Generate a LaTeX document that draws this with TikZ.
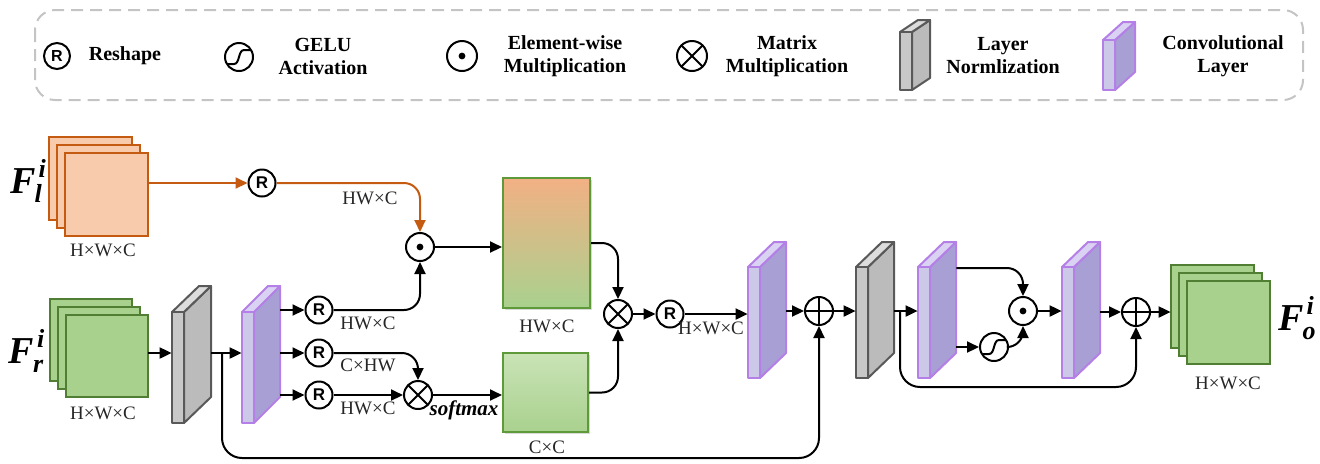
\documentclass[tikz,border=0pt]{standalone}
\usepackage{fontspec}
\setmainfont{Liberation Serif}
\newfontfamily\rfont{Liberation Sans}
\usetikzlibrary{arrows.meta,shadows,fit,calc}
\definecolor{orgB}{HTML}{C55A11}
\definecolor{orgF}{HTML}{F8CBAD}
\definecolor{grnB}{HTML}{507E32}
\definecolor{grnF}{HTML}{A9D18E}
\definecolor{boxB}{HTML}{5E9A3A}
\definecolor{boxT}{HTML}{F2B084}
\definecolor{boxT2}{HTML}{C9E3B6}
\definecolor{gB}{HTML}{595959}
\definecolor{gF}{HTML}{C8C8C8}
\definecolor{gS}{HTML}{BBBBBB}
\definecolor{gT}{HTML}{DCDCDC}
\definecolor{pB}{HTML}{B47FE6}
\definecolor{pF}{HTML}{CCC8E8}
\definecolor{pS}{HTML}{A8A0D4}
\definecolor{pT}{HTML}{DAD2F2}
\definecolor{legB}{HTML}{C4C4C4}
\newcommand\slab[8]{%
 \filldraw[#8side] (#2+#4,#3) -- (#2+#4+#6,#3-#7) -- (#2+#4+#6,#3+#5-#7) -- (#2+#4,#3+#5) -- cycle;
 \filldraw[#8top] (#2,#3) -- (#2+#6,#3-#7) -- (#2+#4+#6,#3-#7) -- (#2+#4,#3) -- cycle;
 \filldraw[#8front] (#2,#3) rectangle (#2+#4,#3+#5);
 \node[fit={(#2,#3-#7) (#2+#4+#6,#3+#5)}, inner sep=0pt] (#1) {};
}
\newcommand\stk[5]{%
 \filldraw[#5] (#2,#3) rectangle ++(#4,#4);
 \filldraw[#5] (#2+8,#3+8) rectangle ++(#4,#4);
 \filldraw[#5] (#2+16,#3+16) rectangle ++(#4,#4);
 \node[fit={(#2,#3) (#2+16+#4,#3+16+#4)}, inner sep=0pt] (#1) {};
}
\newcommand\Flab[1]{\fontsize{19}{19}\selectfont\bfseries\itshape F\raisebox{8pt}{\makebox[0pt][l]{\fontsize{13}{13}\selectfont\kern1.5pt i}}\raisebox{-4.5pt}{\fontsize{13}{13}\selectfont\kern-0.5pt #1}}
\begin{document}
\begin{tikzpicture}[x=0.5pt,y=-0.5pt,
 conn/.style={line width=1pt,-{Triangle[length=6pt,width=5.5pt]}},
 oconn/.style={conn,draw=orgB,-{Triangle[length=6pt,width=5.5pt,fill=orgB]}},
 op/.style={circle,draw,line width=1pt,minimum size=14pt,inner sep=0pt,fill=white},
 rsh/.style={op,minimum size=13.5pt,font=\rfont\bfseries\fontsize{8.5}{8.5}\selectfont},
 oplus/.style={op,path picture={\draw[black,line width=1pt] (path picture bounding box.north) -- (path picture bounding box.south) (path picture bounding box.west) -- (path picture bounding box.east);}},
 otimes/.style={op,path picture={\draw[black,line width=1pt] (path picture bounding box.north west) -- (path picture bounding box.south east) (path picture bounding box.north east) -- (path picture bounding box.south west);}},
 dotop/.style={op,path picture={\fill[black] (path picture bounding box.center) circle[radius=1.7pt];}},
 geluop/.style={op,path picture={\draw[black,line width=1pt,shift={(path picture bounding box.center)}] (-18,7) -- (-5,7) .. controls (1,7) and (-1,-7) .. (5,-7) -- (18,-7);}},
 gside/.style={fill=gS,draw=gB,line width=1pt,line join=round},
 gtop/.style={fill=gT,draw=gB,line width=1pt,line join=round},
 gfront/.style={fill=gF,draw=gB,line width=1pt,line join=round},
 pside/.style={fill=pS,draw=pB,line width=1pt,line join=round},
 ptop/.style={fill=pT,draw=pB,line width=1pt,line join=round},
 pfront/.style={fill=pF,draw=pB,line width=1pt,line join=round},
 ostk/.style={fill=orgF,draw=orgB,line width=1pt},
 gstk/.style={fill=grnF,draw=grnB,line width=1pt},
 lab/.style={font=\fontsize{9.5}{11}\selectfont,text=black!85,inner sep=0pt},
 legtxt/.style={font=\bfseries\fontsize{10}{11.5}\selectfont,align=center,inner sep=0pt},
 bigbox/.style={draw=boxB,line width=1pt,inner sep=0pt,drop shadow={shadow xshift=1.2pt,shadow yshift=-1.2pt,opacity=0.3,fill=gray}}
]
\useasboundingbox (0,0) rectangle (1320,463);
% legend
\draw[legB,line width=1pt,dash pattern=on 6pt off 3.5pt,rounded corners=10pt] (35,10) rectangle (1303,100);
\node[rsh,minimum size=13pt,font=\rfont\bfseries\fontsize{8}{8}\selectfont] (lR) at (57,56) {R};
\node[legtxt] (lRt) at (125,56) {Reshape};
\node[geluop] (lG) at (239,57) {};
\node[legtxt] (lGt) at (323,56) {GELU\\Activation};
\node[dotop,minimum size=15pt] (lD) at (462,56) {};
\node[legtxt] (lDt) at (565,56) {Element-wise\\Multiplication};
\node[otimes,minimum size=15pt] (lM) at (692,56) {};
\node[legtxt] (lMt) at (787,56) {Matrix\\Multiplication};
\slab{lLN}{900}{32}{12}{58}{18}{12}{g}
\node[legtxt] (lLNt) at (1003,56) {Layer\\Normlization};
\slab{lCV}{1103}{40}{12}{50}{20}{18}{p}
\node[legtxt] (lCVt) at (1223,56) {Convolutional\\Layer};
% inputs
\stk{Fl}{49}{137}{83}{ostk}
\node[lab] (Fllab) at (103,250) {H×W×C};
\node (Flt) at (26,181) {\Flab{l}};
\stk{Fr}{50}{299}{82}{gstk}
\node[lab] (Frlab) at (103,413) {H×W×C};
\node (Frt) at (26,351) {\Flab{r}};
% layers
\slab{ln1}{172}{312}{12}{111}{27}{26}{g}
\slab{conv1}{242}{312}{12}{111}{26}{26}{p}
\slab{conv2}{748}{267}{12}{111}{26}{25}{p}
\slab{ln2}{856}{267}{12}{111}{26}{25}{g}
\slab{conv3}{918}{267}{12}{111}{26}{25}{p}
\slab{conv4}{1062}{267}{12}{111}{26}{25}{p}
% operators
\node[rsh] (R0) at (262,183) {R};
\node[dotop] (dot1) at (420,247) {};
\node[rsh] (R1) at (319,310) {R};
\node[rsh] (R2) at (319,353) {R};
\node[rsh] (R3) at (319,395) {R};
\node[otimes] (mm1) at (418,395) {};
\node[otimes] (mm2) at (618,314) {};
\node[rsh] (R4) at (670,314) {R};
\node[oplus] (add1) at (819,311) {};
\node[geluop] (gelu1) at (994,347) {};
\node[dotop] (dot2) at (1023,311) {};
\node[oplus] (add2) at (1136,312) {};
% boxes
\node[bigbox,minimum width=43.5pt,minimum height=65pt,top color=boxT,bottom color=grnF] (box1) at (546.5,243) {};
\node[bigbox,minimum width=42.5pt,minimum height=39.5pt,top color=boxT2,bottom color=grnF] (box2) at (545.5,392.5) {};
\node[lab] (b1lab) at (547,326) {HW×C};
\node[lab] (b2lab) at (547,447) {C×C};
% output
\stk{Fo}{1171}{265}{83}{gstk}
\node[lab] (Folab) at (1228,383) {H×W×C};
\node (Fot) at (1297,318) {\Flab{o}};
% coordinates
\coordinate (b1) at (222,353);
\coordinate (skipY) at (0,458);
\coordinate (b2) at (900,311);
\coordinate (skipY2) at (0,387);
\coordinate (yc3) at (0,268);
% connectors
\draw[oconn] (Fl.east |- R0) -- (R0.west);
\draw[oconn,rounded corners=8pt] (R0.east) -| (dot1.north);
\node[lab] (l0) at (370,198) {HW×C};
\draw[conn] (Fr.east |- b1) -- (ln1.west |- b1);
\draw[conn] (ln1.east |- b1) -- (conv1.west |- b1);
\draw[conn,rounded corners=10pt] (b1) -- (b1 |- skipY) -| (add1.south);
\draw[conn] (conv1.east |- R1) -- (R1.west);
\draw[conn] (conv1.east |- R2) -- (R2.west);
\draw[conn] (conv1.east |- R3) -- (R3.west);
\draw[conn,rounded corners=8pt] (R1.east) -| (dot1.south);
\draw[conn,rounded corners=8pt] (R2.east) -| (mm1.north);
\draw[conn] (R3.east) -- (mm1.west);
\node[lab] (l1) at (368,323) {HW×C};
\node[lab] (l2) at (368,365) {C×HW};
\node[lab] (l3) at (368,408) {HW×C};
\draw[conn] (dot1.east) -- (dot1 -| box1.west);
\draw[conn] (mm1.east) -- (mm1 -| box2.west);
\node[font=\bfseries\itshape\fontsize{10.5}{12}\selectfont,inner sep=0pt] (smx) at (464,410) {softmax};
\draw[conn,rounded corners=8pt] (box1.east) -| (mm2.north);
\draw[conn,rounded corners=8pt] (box2.east) -| (mm2.south);
\draw[conn] (mm2.east) -- (R4.west);
\draw[conn] (R4.east) -- (R4 -| conv2.west);
\node[lab] (l4) at (711,328) {H×W×C};
\draw[conn] (conv2.east |- add1) -- (add1.west);
\draw[conn] (add1.east) -- (add1 -| ln2.west);
\draw[conn] (ln2.east |- add1) -- (conv3.west |- add1);
\draw[conn,rounded corners=10pt] (b2) -- (b2 |- skipY2) -| (add2.south);
\draw[conn,rounded corners=8pt] (conv3.east |- yc3) -| (dot2.north);
\draw[conn] (conv3.east |- gelu1) -- (gelu1.west);
\draw[conn,rounded corners=8pt] (gelu1.east) -| (dot2.south);
\draw[conn] (dot2.east) -- (dot2 -| conv4.west);
\draw[conn] (conv4.east |- add2) -- (add2.west);
\draw[conn] (add2.east) -- (add2 -| Fo.west);
\end{tikzpicture}
\end{document}
